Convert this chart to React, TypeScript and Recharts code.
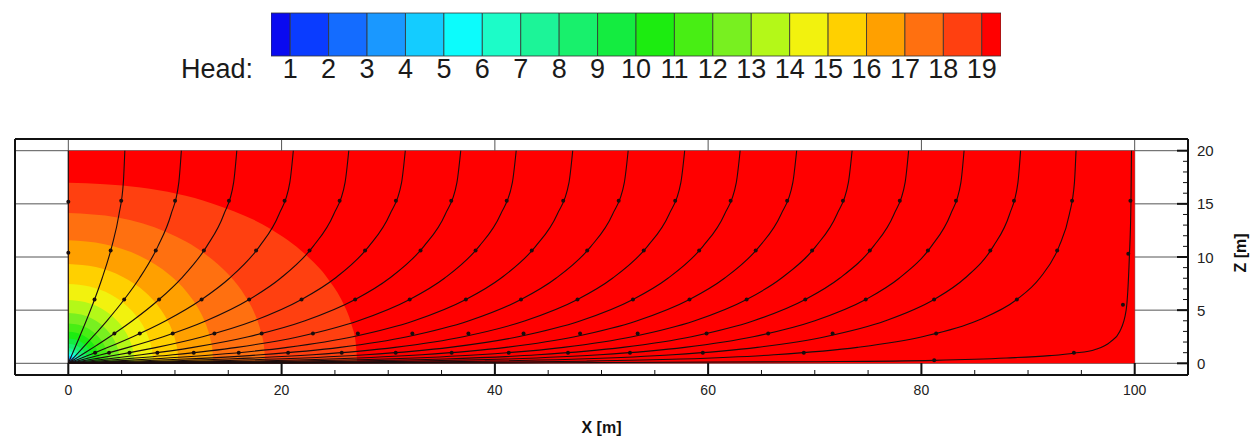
import {
  ComposedChart,
  Area,
  Line,
  Scatter,
  XAxis,
  YAxis,
  CartesianGrid,
  BarChart,
  Bar,
} from "recharts"

type Pt = [number, number]

const FONT = "'Liberation Sans', Arial, Helvetica, sans-serif"

// ─── Colour bar ─────────────────────────────────────────────────────────────
const HEAD_LEVELS = [1, 2, 3, 4, 5, 6, 7, 8, 9, 10, 11, 12, 13, 14, 15, 16, 17, 18, 19]
// colour of the band that starts at head = index
const CELL_COLORS = [
  "#0a0af0", "#0a3cff", "#146cff", "#1a98ff", "#14ccff",
  "#0cfcfc", "#1cfcc8", "#1cf498", "#18f06c", "#14ec40",
  "#1cec10", "#48ee14", "#78f020", "#b4f818", "#f2f20e",
  "#ffd000", "#ffa000", "#ff7010", "#ff4010", "#ff0000",
]

// ─── Axes ───────────────────────────────────────────────────────────────────
const X_DOMAIN: [number, number] = [-5, 105]
const Z_DOMAIN: [number, number] = [-1.1, 21.1]
const X_TICKS = [0, 5, 10, 15, 20, 25, 30, 35, 40, 45, 50, 55, 60, 65, 70, 75, 80, 85, 90, 95, 100]
const X_MAJOR = [0, 20, 40, 60, 80, 100]
const Z_TICKS = [0, 1, 2, 3, 4, 5, 6, 7, 8, 9, 10, 11, 12, 13, 14, 15, 16, 17, 18, 19, 20]
const Z_MAJOR = [0, 5, 10, 15, 20]

// ─── Head field: domain + contour boundaries (x, z) ─────────────────────────
const field: Pt[] = [[0, 20], [100, 20]]

const head19: Pt[] = [[0, 16.98], [6.78, 16.54], [13.55, 15.02], [18.97, 12.63], [22.22, 10.25], [24.39, 7.89], [25.75, 5.69], [26.56, 3.62], [26.96, 1.86], [27.1, 0]]
const head18: Pt[] = [[0, 14.13], [4.62, 13.71], [9.23, 12.32], [12.92, 10.22], [15.14, 8.23], [16.61, 6.29], [17.54, 4.53], [18.09, 2.87], [18.37, 1.44], [18.46, 0]]
const head17: Pt[] = [[0, 11.57], [3.4, 11.2], [6.8, 10.05], [9.51, 8.3], [11.14, 6.67], [12.23, 5.09], [12.91, 3.65], [13.32, 2.32], [13.52, 1.18], [13.59, 0]]
const head16: Pt[] = [[0, 9.34], [2.58, 9.05], [5.16, 8.09], [7.22, 6.69], [8.46, 5.35], [9.29, 4.06], [9.8, 2.92], [10.11, 1.85], [10.27, 0.93], [10.32, 0]]
const head15: Pt[] = [[0, 7.47], [1.99, 7.23], [3.98, 6.47], [5.57, 5.33], [6.52, 4.27], [7.16, 3.26], [7.55, 2.33], [7.79, 1.49], [7.91, 0.75], [7.95, 0]]
const head14: Pt[] = [[0, 5.95], [1.55, 5.76], [3.1, 5.15], [4.33, 4.25], [5.08, 3.4], [5.57, 2.59], [5.88, 1.86], [6.07, 1.18], [6.16, 0.59], [6.19, 0]]
const head13: Pt[] = [[0, 4.73], [1.21, 4.58], [2.42, 4.1], [3.39, 3.38], [3.97, 2.71], [4.36, 2.06], [4.6, 1.48], [4.74, 0.94], [4.82, 0.47], [4.84, 0]]
const head12: Pt[] = [[0, 3.74], [0.95, 3.62], [1.9, 3.24], [2.65, 2.67], [3.11, 2.14], [3.41, 1.63], [3.6, 1.17], [3.71, 0.74], [3.77, 0.37], [3.79, 0]]
const head11: Pt[] = [[0, 2.96], [0.75, 2.87], [1.49, 2.56], [2.09, 2.11], [2.44, 1.69], [2.68, 1.29], [2.83, 0.92], [2.92, 0.59], [2.98, 0]]
const head10: Pt[] = [[0, 2.33], [0.59, 2.26], [1.17, 2.02], [1.64, 1.66], [1.92, 1.33], [2.11, 1.02], [2.22, 0.73], [2.29, 0.46], [2.34, 0]]
const head9: Pt[] = [[0, 1.84], [0.46, 1.78], [0.92, 1.59], [1.29, 1.31], [1.51, 1.05], [1.66, 0.8], [1.75, 0.57], [1.84, 0]]
const head8: Pt[] = [[0, 1.45], [0.73, 1.26], [1.03, 1.02], [1.26, 0.73], [1.45, 0]]
const head7: Pt[] = [[0, 1.14], [0.57, 0.99], [0.81, 0.8], [0.99, 0.57], [1.14, 0]]
const head6: Pt[] = [[0, 0.9], [0.45, 0.78], [0.64, 0.64], [0.78, 0.45], [0.9, 0]]
const head5: Pt[] = [[0, 0.71], [0.36, 0.61], [0.5, 0.5], [0.61, 0.36], [0.71, 0]]
const head4: Pt[] = [[0, 0.56], [0.28, 0.48], [0.4, 0.4], [0.48, 0.28], [0.56, 0]]

const CONTOURS: { level: number; pts: Pt[] }[] = [
  { level: 19, pts: head19 }, { level: 18, pts: head18 }, { level: 17, pts: head17 },
  { level: 16, pts: head16 }, { level: 15, pts: head15 }, { level: 14, pts: head14 },
  { level: 13, pts: head13 }, { level: 12, pts: head12 }, { level: 11, pts: head11 },
  { level: 10, pts: head10 }, { level: 9, pts: head9 }, { level: 8, pts: head8 },
  { level: 7, pts: head7 }, { level: 6, pts: head6 }, { level: 5, pts: head5 },
  { level: 4, pts: head4 },
]

// ─── Streamlines (x, z), sink at the origin ────────────────────────────────
const sl00: Pt[] = [[0, 0], [0, 20]]
const sl01: Pt[] = [[0, 0], [0.85, 2], [1.68, 4], [2.46, 6], [3.17, 8], [4.08, 11], [4.75, 14], [5.16, 17], [5.3, 20]]
const sl02: Pt[] = [[0, 0], [0.75, 0.8], [1.39, 1.5], [2.3, 2.5], [3.62, 4], [5.24, 6], [6.67, 8], [8.4, 11], [9.63, 14], [10.36, 17], [10.6, 20]]
const sl03: Pt[] = [[0, 0], [1.26, 0.8], [2.36, 1.5], [3.88, 2.5], [6.01, 4], [8.51, 6], [10.6, 8], [12.98, 11], [14.58, 14], [15.5, 17], [15.8, 20]]
const sl04: Pt[] = [[0, 0], [1.01, 0.4], [2.01, 0.8], [3.73, 1.5], [6.05, 2.5], [9.14, 4], [12.5, 6], [15.11, 8], [17.93, 11], [19.75, 14], [20.77, 17], [21.1, 20]]
const sl05: Pt[] = [[0, 0], [1.55, 0.4], [3.07, 0.8], [5.62, 1.5], [8.9, 2.5], [12.93, 4], [16.96, 6], [19.9, 8], [22.96, 11], [24.88, 14], [25.95, 17], [26.3, 20]]
const sl06: Pt[] = [[0, 0], [2.36, 0.4], [4.64, 0.8], [8.29, 1.5], [12.6, 2.5], [17.41, 4], [21.87, 6], [25.01, 8], [28.18, 11], [30.15, 14], [31.25, 17], [31.6, 20]]
const sl07: Pt[] = [[0, 0], [3.54, 0.4], [6.84, 0.8], [11.7, 1.5], [16.88, 2.5], [22.2, 4], [26.9, 6], [30.11, 8], [33.34, 11], [35.34, 14], [36.44, 17], [36.8, 20]]
const sl08: Pt[] = [[0, 0], [2.68, 0.2], [5.25, 0.4], [9.81, 0.8], [15.82, 1.5], [21.61, 2.5], [27.21, 4], [32.01, 6], [35.27, 8], [38.52, 11], [40.53, 14], [41.64, 17], [42.0, 20]]
const sl09: Pt[] = [[0, 0], [4.04, 0.2], [7.72, 0.4], [13.65, 0.8], [20.55, 1.5], [26.69, 2.5], [32.43, 4], [37.28, 6], [40.56, 8], [43.82, 11], [45.84, 14], [46.95, 17], [47.3, 20]]
const sl10: Pt[] = [[0, 0], [3.06, 0.1], [5.95, 0.2], [10.95, 0.4], [18.03, 0.8], [25.48, 1.5], [31.78, 2.5], [37.58, 4], [42.45, 6], [45.73, 8], [49.01, 11], [51.03, 14], [52.14, 17], [52.5, 20]]
const sl11: Pt[] = [[0, 0], [4.58, 0.1], [8.67, 0.2], [15.0, 0.4], [22.91, 0.8], [30.64, 1.5], [37.03, 2.5], [42.85, 4], [47.75, 6], [51.03, 8], [54.31, 11], [56.33, 14], [57.44, 17], [57.8, 20]]
const sl12: Pt[] = [[0, 0], [6.72, 0.1], [12.15, 0.2], [19.54, 0.4], [27.92, 0.8], [35.78, 1.5], [42.19, 2.5], [48.05, 4], [52.95, 6], [56.23, 8], [59.51, 11], [61.53, 14], [62.64, 17], [63.0, 20]]
const sl13: Pt[] = [[0, 0], [9.71, 0.1], [16.41, 0.2], [24.51, 0.4], [33.13, 0.8], [41.04, 1.5], [47.49, 2.5], [53.35, 4], [58.25, 6], [61.53, 8], [64.81, 11], [66.83, 14], [67.94, 17], [68.3, 20]]
const sl14: Pt[] = [[0, 0], [13.59, 0.1], [21.27, 0.2], [29.76, 0.4], [38.46, 0.8], [46.44, 1.5], [52.89, 2.5], [58.75, 4], [63.61, 6], [66.86, 8], [70.1, 11], [72.07, 14], [73.15, 17], [73.5, 20]]
const sl15: Pt[] = [[0, 0], [18.29, 0.1], [26.57, 0.2], [35.25, 0.4], [44.02, 0.8], [52.0, 1.5], [58.44, 2.5], [64.27, 4], [69.11, 6], [72.33, 8], [75.5, 11], [77.42, 14], [78.47, 17], [78.8, 20]]
const sl16: Pt[] = [[0, 0], [23.7, 0.1], [32.27, 0.2], [41.01, 0.4], [49.84, 0.8], [57.8, 1.5], [64.22, 2.5], [70.01, 4], [74.78, 6], [77.91, 8], [80.93, 11], [82.73, 14], [83.7, 17], [84.0, 20]]
const sl17: Pt[] = [[0, 0], [30.4, 0.1], [39.03, 0.2], [47.86, 0.4], [56.67, 0.8], [64.61, 1.5], [70.98, 2.5], [76.64, 4], [81.19, 6], [84.07, 8], [86.74, 11], [88.26, 14], [89.05, 17], [89.3, 20]]
const sl18: Pt[] = [[0, 0], [39.8, 0.1], [48.58, 0.2], [57.39, 0.4], [66.17, 0.8], [73.99, 1.5], [80.09, 2.5], [85.21, 4], [88.95, 6], [91.09, 8], [92.91, 11], [93.87, 14], [94.35, 17], [94.5, 20]]
const sl19: Pt[] = [[0, 0], [45, 0.05], [70, 0.15], [81.2, 0.28], [88, 0.5], [92, 0.72], [94.3, 0.95], [96.3, 1.3], [97.7, 2], [98.6, 3], [99.2, 5], [99.5, 10], [99.65, 15], [99.7, 20]]

const STREAMLINES: Pt[][] = [
  sl00, sl01, sl02, sl03, sl04, sl05, sl06, sl07, sl08, sl09,
  sl10, sl11, sl12, sl13, sl14, sl15, sl16, sl17, sl18, sl19,
]

// direction markers sitting on the streamlines
const arrows: Pt[] = [
  [0, 15.2], [0, 10.4],
  [4.96, 15.3], [3.97, 10.6], [2.46, 6.0],
  [10.01, 15.3], [8.2, 10.6], [5.24, 6.0],
  [15.06, 15.3], [12.71, 10.6], [8.51, 6.0], [4.32, 2.8],
  [20.28, 15.3], [17.61, 10.6], [12.5, 6.0], [6.7, 2.8], [2.51, 1.0],
  [25.44, 15.3], [22.62, 10.6], [16.96, 6.0], [9.79, 2.8], [3.82, 1.0],
  [30.72, 15.3], [27.83, 10.6], [21.87, 6.0], [13.7, 2.8], [5.74, 1.0],
  [35.91, 15.3], [33.03, 10.6], [26.9, 6.0], [18.13, 2.8], [8.35, 1.0],
  [41.11, 15.3], [38.19, 10.6], [32.01, 6.0], [22.94, 2.8], [11.76, 1.0],
  [46.41, 15.3], [43.46, 10.6], [37.28, 6.0], [27.15, 2.8], [15.98, 1.0],
  [51.61, 15.3], [48.66, 10.6], [42.45, 6.0], [32.26, 2.8], [20.61, 1.0],
  [56.91, 15.3], [53.96, 10.6], [47.75, 6.0], [37.52, 2.8], [25.64, 1.0],
  [62.11, 15.3], [59.16, 10.6], [52.95, 6.0], [42.69, 2.8], [30.7, 1.0],
  [67.41, 15.3], [64.46, 10.6], [58.25, 6.0], [47.99, 2.8], [35.95, 1.0],
  [72.64, 15.3], [69.75, 10.6], [63.61, 6.0], [53.39, 2.8], [41.3, 1.0],
  [77.97, 15.3], [75.16, 10.6], [69.11, 6.0], [59.85, 2.8], [46.86, 1.0],
  [83.24, 15.3], [80.61, 10.6], [74.78, 6.0], [65.63, 2.8], [52.67, 1.0],
  [88.68, 15.3], [86.46, 10.6], [81.19, 6.0], [71.67, 2.8], [59.5, 1.0],
  [94.13, 15.3], [92.73, 10.6], [88.95, 6.0], [81.38, 2.8], [68.97, 1.0],
  [99.6, 15.3], [99.4, 10.3], [98.9, 5.5], [94.3, 1.0], [81.2, 0.28],
]

// one table for the chart: each series fills its own column
const rows = [
  ...field.map(([x, z]) => ({ x, field: z })),
  ...CONTOURS.flatMap((c) => c.pts.map(([x, z]) => ({ x, [`h${c.level}`]: z }))),
  ...STREAMLINES.flatMap((s, i) => s.map(([x, z]) => ({ x, [`s${i}`]: z }))),
]
const arrowRows = arrows.map(([x, z]) => ({ x, z }))

const colorRow: Record<string, number | string> = { name: "head" }
CELL_COLORS.forEach((_, i) => {
  colorRow[`c${i}`] = 1
})

// ─── Ticks (drawn inward, labels outside) ──────────────────────────────────
function BottomTick({ x, y, payload }: { x?: number; y?: number; payload?: { value: number } }) {
  if (x == null || y == null || !payload) return null
  const major = payload.value % 20 === 0
  return (
    <g>
      <line x1={x} y1={y} x2={x} y2={y - (major ? 12 : 5)} stroke="#111" strokeWidth={major ? 2 : 1} />
      {major && (
        <text x={x} y={y + 20} textAnchor="middle" fontSize={14} fill="#222" fontFamily={FONT}>
          {payload.value}
        </text>
      )}
    </g>
  )
}

function RightTick({ x, y, payload }: { x?: number; y?: number; payload?: { value: number } }) {
  if (x == null || y == null || !payload) return null
  const major = payload.value % 5 === 0
  return (
    <g>
      <line x1={x} y1={y} x2={x - (major ? 11 : 5)} y2={y} stroke="#111" strokeWidth={major ? 2 : 1} />
      {major && (
        <text x={x + 9} y={y + 5.5} textAnchor="start" fontSize={15} fill="#222" fontFamily={FONT}>
          {payload.value}
        </text>
      )}
    </g>
  )
}

export default function App() {
  return (
    <div style={{ position: "absolute", left: 0, top: 0, width: 1254, height: 438, background: "#fff", fontFamily: FONT }}>
      {/* Colour legend */}
      <div style={{ position: "absolute", left: 0, top: 0 }}>
        <BarChart
          width={1254}
          height={90}
          layout="vertical"
          data={[colorRow]}
          margin={{ top: 13, right: 253, bottom: 33, left: 271 }}
          barCategoryGap={0}
        >
          <XAxis
            type="number"
            domain={[0.5, 19.5]}
            allowDataOverflow
            ticks={HEAD_LEVELS}
            interval={0}
            axisLine={false}
            tickLine={false}
            tickSize={0}
            tickMargin={3}
            height={1}
            tick={{ fontSize: 27, fill: "#1a1a1a", fontFamily: FONT }}
          />
          <YAxis type="category" dataKey="name" hide width={0} />
          {CELL_COLORS.map((c, i) => (
            <Bar
              key={c}
              dataKey={`c${i}`}
              stackId="bar"
              fill={c}
              stroke="#333"
              strokeWidth={0.8}
              isAnimationActive={false}
            />
          ))}
        </BarChart>
      </div>
      <div
        style={{
          position: "absolute",
          left: 0,
          top: 56,
          width: 253,
          textAlign: "right",
          fontSize: 27,
          lineHeight: "27px",
          color: "#1a1a1a",
        }}
      >
        Head:
      </div>

      {/* Head field with streamlines */}
      <div style={{ position: "absolute", left: 0, top: 0 }}>
        <ComposedChart
          width={1254}
          height={438}
          data={rows}
          margin={{ top: 138, right: 65, bottom: 62, left: 14 }}
        >
          <CartesianGrid
            verticalValues={X_MAJOR}
            horizontalValues={Z_MAJOR}
            stroke="#555"
            strokeWidth={1}
          />
          <XAxis
            dataKey="x"
            type="number"
            domain={X_DOMAIN}
            allowDataOverflow
            ticks={X_TICKS}
            interval={0}
            height={1}
            tickSize={0}
            tickMargin={0}
            tickLine={false}
            axisLine={{ stroke: "#111", strokeWidth: 2 }}
            tick={<BottomTick />}
            label={{ value: "X [m]", position: "bottom", offset: 46, fontSize: 16, fontWeight: 700, fill: "#111", fontFamily: FONT }}
          />
          <XAxis
            xAxisId="top"
            orientation="top"
            type="number"
            domain={X_DOMAIN}
            allowDataOverflow
            ticks={X_MAJOR}
            height={1}
            tick={false}
            tickLine={false}
            axisLine={{ stroke: "#111", strokeWidth: 2 }}
          />
          <YAxis
            orientation="right"
            type="number"
            domain={Z_DOMAIN}
            allowDataOverflow
            ticks={Z_TICKS}
            interval={0}
            width={1}
            tickSize={0}
            tickMargin={0}
            tickLine={false}
            axisLine={{ stroke: "#111", strokeWidth: 2 }}
            tick={<RightTick />}
          />
          <YAxis
            yAxisId="left"
            orientation="left"
            type="number"
            domain={Z_DOMAIN}
            allowDataOverflow
            ticks={Z_MAJOR}
            width={1}
            tick={false}
            tickLine={false}
            axisLine={{ stroke: "#111", strokeWidth: 2 }}
          />

          <Area
            dataKey="field"
            type="linear"
            baseValue={0}
            fill={CELL_COLORS[19]}
            fillOpacity={1}
            stroke="none"
            connectNulls
            dot={false}
            activeDot={false}
            isAnimationActive={false}
          />
          {CONTOURS.map((c) => (
            <Area
              key={c.level}
              dataKey={`h${c.level}`}
              type="monotone"
              baseValue={0}
              fill={CELL_COLORS[c.level - 1]}
              fillOpacity={1}
              stroke="none"
              connectNulls
              dot={false}
              activeDot={false}
              isAnimationActive={false}
            />
          ))}
          {STREAMLINES.map((_, i) => (
            <Line
              key={i}
              dataKey={`s${i}`}
              type={i === 0 ? "linear" : "monotone"}
              stroke="#1a0d0d"
              strokeWidth={1.1}
              connectNulls
              dot={false}
              activeDot={false}
              isAnimationActive={false}
            />
          ))}
          <Scatter
            data={arrowRows}
            dataKey="z"
            fill="#111"
            isAnimationActive={false}
            shape={(p: { cx?: number; cy?: number }) => <circle cx={p.cx} cy={p.cy} r={2} fill="#1a0d0d" />}
          />
        </ComposedChart>
      </div>

      <div
        style={{
          position: "absolute",
          left: 1241,
          top: 253,
          transform: "translate(-50%, -50%) rotate(-90deg)",
          fontSize: 16,
          fontWeight: 700,
          color: "#111",
          whiteSpace: "nowrap",
        }}
      >
        Z [m]
      </div>
    </div>
  )
}
